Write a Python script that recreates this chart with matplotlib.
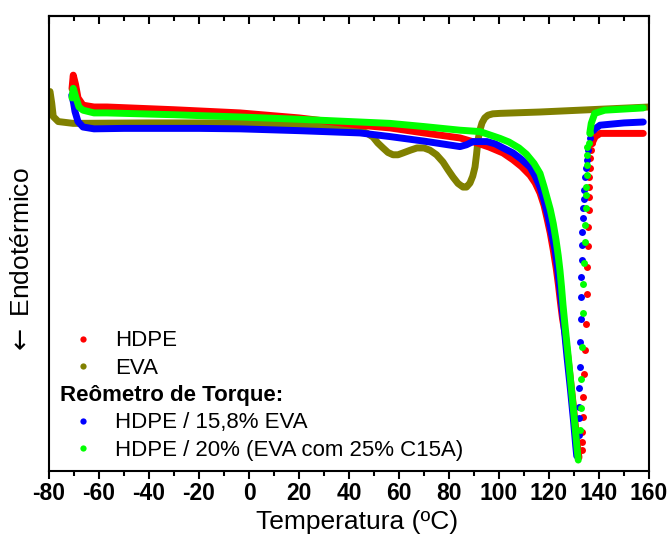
import matplotlib.pyplot as plt
from matplotlib.lines import Line2D
from matplotlib.ticker import MultipleLocator

plt.rcParams['font.family'] = ['Liberation Sans', 'DejaVu Sans']
plt.rcParams['axes.unicode_minus'] = False

# ---- data (heat flow in arbitrary units) ----
hdpe_T = [-70.8, -70.3, -69.4, -68.4, -66.4, -62.0, -56.8, -30.0, -3.6, 20.0, 44.4, 56.4,
          70.0, 84.4, 91.2, 96.0, 101.6, 105.6, 109.0, 112.4, 114.5, 116.4, 118.0, 119.1,
          120.5, 121.7, 122.9, 123.8, 124.6, 125.4, 126.5, 128.2, 129.6, 130.9, 131.7, 132.0]
hdpe_q = [84.0, 87.0, 85.0, 82.0, 80.4, 80.0, 80.0, 79.4, 78.7, 77.6, 76.0, 75.4,
          74.3, 73.2, 72.1, 71.2, 69.9, 68.4, 66.9, 65.0, 63.3, 61.1, 58.4, 55.8,
          52.3, 48.6, 44.5, 40.8, 37.0, 33.5, 30.0, 22.0, 15.0, 8.0, 4.0, 3.0]
hdpe_ret_T = [133.1, 133.1, 133.2, 133.5, 133.7, 134.1, 134.4, 134.7, 135.1, 135.3, 135.7,
              135.7, 135.9, 135.9, 136.0, 136.1, 136.3, 136.5, 136.8, 137.2]
hdpe_ret_q = [4.6, 6.4, 8.6, 11.9, 16.3, 21.3, 26.6, 32.3, 38.9, 44.8, 49.5,
              53.6, 57.4, 60.3, 62.5, 64.7, 66.5, 68.7, 70.5, 72.0]
hdpe_end_T = [137.2, 138.5, 140.5, 157.7]
hdpe_end_q = [72.0, 73.5, 74.2, 74.2]

eva_T = [-79.6, -78.9, -78.3, -76.3, -70.3, -40.0, -7.6, 32.4, 40.0, 44.4, 47.0, 49.6, 51.5,
         53.6, 55.6, 57.6, 59.6, 61.6, 64.5, 67.2, 70.0, 72.4, 75.0, 77.6, 79.6, 81.6, 83.6,
         85.6, 87.0, 88.4, 89.5, 90.4, 91.0, 91.6, 92.4, 93.2, 94.3, 95.6, 97.5, 100.4,
         116.4, 160.0]
eva_q = [83.4, 80.8, 77.9, 76.8, 76.4, 76.5, 76.5, 75.8, 75.4, 74.9, 74.3, 73.4, 72.1,
         71.0, 70.0, 69.5, 69.5, 69.9, 70.5, 71.0, 71.0, 70.5, 69.5, 67.9, 66.2, 64.6, 63.2,
         62.4, 62.4, 63.3, 64.8, 66.8, 69.5, 72.7, 75.0, 76.5, 77.6, 78.2, 78.5, 78.6,
         78.9, 80.0]

blend_T = [-70.9, -70.2, -69.6, -68.4, -66.4, -62.0, -50.0, -20.0, -3.6, 20.0, 44.4, 56.4,
           70.0, 84.4, 87.0, 89.6, 95.2, 98.5, 101.6, 105.6, 109.0, 112.4, 114.5, 116.4,
           118.0, 119.7, 121.0, 122.4, 123.5, 124.4, 125.2, 125.9, 127.2, 128.6, 129.9,
           130.7, 131.1]
blend_q = [82.6, 81.0, 79.0, 76.8, 75.6, 75.2, 75.3, 75.3, 75.2, 74.8, 74.3, 73.5,
           72.5, 71.3, 71.7, 72.4, 72.4, 71.9, 71.0, 69.9, 68.5, 66.8, 64.8, 62.4,
           59.5, 55.8, 52.3, 48.6, 44.3, 40.0, 36.0, 32.5, 25.1, 17.8, 10.5,
           5.5, 3.3]
blend_ret_T = [131.8, 132.1, 132.0, 132.1, 132.4, 132.4, 132.7, 132.9, 132.9, 133.0, 133.1,
               133.2, 133.7, 133.7, 134.0, 134.1, 134.4, 134.8, 135.1, 135.7, 136.4, 137.7]
blend_ret_q = [8.0, 11.6, 14.1, 18.2, 22.9, 28.4, 33.4, 38.2, 42.6, 46.4, 49.7,
               52.6, 55.6, 57.8, 59.8, 61.8, 64.6, 66.6, 68.4, 70.5, 73.2, 74.9]
blend_end_T = [137.7, 140.4, 150.0, 157.7]
blend_end_q = [74.9, 76.0, 76.5, 76.7]

nano_T = [-70.8, -70.3, -69.2, -68.0, -66.4, -62.0, -56.8, -30.0, -3.6, 20.0, 44.4, 56.4,
          70.0, 84.4, 92.4, 100.4, 104.0, 108.0, 111.0, 114.0, 116.4, 118.0, 119.1, 120.5,
          121.7, 122.8, 123.7, 124.4, 125.0, 125.6, 126.4, 127.7, 129.0, 130.3, 131.3, 131.7]
nano_q = [82.0, 84.1, 82.0, 80.0, 79.3, 78.7, 78.7, 78.3, 77.8, 77.3, 76.7, 76.4,
          75.7, 74.9, 74.6, 73.1, 72.3, 71.0, 69.6, 67.6, 65.4, 62.5, 60.3, 57.5,
          54.4, 50.8, 47.3, 44.0, 40.5, 36.5, 32.0, 25.1, 17.8, 10.5, 4.6, 2.4]
nano_ret_T = [132.4, 132.8, 132.8, 133.1, 133.5, 133.7, 134.0, 134.4, 134.4, 134.8, 134.8,
              134.8, 135.1, 135.1, 135.1, 135.1, 135.9, 136.3]
nano_ret_q = [9.0, 13.8, 20.2, 27.3, 34.7, 41.1, 45.7, 50.3, 54.1, 57.8, 60.7,
              62.5, 65.1, 67.3, 69.5, 71.3, 72.0, 74.2]
nano_end_T = [136.3, 136.9, 138.3, 142.3, 157.7]
nano_end_q = [74.2, 76.4, 78.6, 79.3, 79.8]

labels = ['HDPE', 'EVA', 'HDPE / 15,8% EVA', 'HDPE / 20% (EVA com 25% C15A)']
colors = ['#ff0000', '#808000', '#0000ff', '#00ff00']

# ---- plot ----
fig = plt.figure(figsize=(6.71, 5.40), dpi=100)
ax = fig.add_axes([49 / 671, 1 - 471 / 540, 600 / 671, 455 / 540])

lw, ms = 5, 5
kw = dict(lw=lw, solid_capstyle='round', solid_joinstyle='round')
ax.plot(eva_T, eva_q, color=colors[1], **kw)
ax.plot(hdpe_T, hdpe_q, color=colors[0], **kw)
ax.plot(hdpe_ret_T, hdpe_ret_q, 'o', ms=ms, mew=0, color=colors[0])
ax.plot(hdpe_end_T, hdpe_end_q, color=colors[0], **kw)
ax.plot(blend_T, blend_q, color=colors[2], **kw)
ax.plot(blend_ret_T, blend_ret_q, 'o', ms=ms, mew=0, color=colors[2])
ax.plot(blend_end_T, blend_end_q, color=colors[2], **kw)
ax.plot(nano_T, nano_q, color=colors[3], **kw)
ax.plot(nano_ret_T, nano_ret_q, 'o', ms=ms, mew=0, color=colors[3])
ax.plot(nano_end_T, nano_end_q, color=colors[3], **kw)

ax.set_xlim(-80, 160)
ax.set_ylim(0, 100)
ax.set_yticks([])
ax.xaxis.set_major_locator(MultipleLocator(20))
ax.xaxis.set_minor_locator(MultipleLocator(10))
ax.tick_params(axis='x', which='major', direction='out', length=6, width=1.5, pad=2,
               labelsize=16.5)
ax.tick_params(axis='x', which='minor', direction='out', length=3.5, width=1.5)
for t in ax.get_xticklabels():
    t.set_fontweight('bold')
for s in ax.spines.values():
    s.set_linewidth(1.5)

top = ax.secondary_xaxis('top')
top.xaxis.set_major_locator(MultipleLocator(20))
top.xaxis.set_minor_locator(MultipleLocator(10))
top.tick_params(which='major', direction='in', length=6, width=1.5, labeltop=False)
top.tick_params(which='minor', direction='in', length=3.5, width=1.5)
top.spines['top'].set_linewidth(1.5)

fig.text(357 / 671, 1 - 522 / 540, 'Temperatura (ºC)', fontsize=19, ha='center', va='center')
fig.text(22 / 671, 1 - 262 / 540, r'$\leftarrow$ Endotérmico', fontsize=19, rotation=90,
         ha='center', va='center')

# ---- legend ----
def dot(c):
    return Line2D([], [], ls='none', marker='o', ms=4.5, mew=0, color=c)

leg_kw = dict(frameon=False, fontsize=16, handlelength=2.07, handletextpad=0.4,
              labelspacing=0.29, borderpad=0, borderaxespad=0, loc='upper left')
leg1 = ax.legend([dot(colors[0]), dot(colors[1])], labels[:2],
                 bbox_to_anchor=(0.018, 0.309), **leg_kw)
ax.add_artist(leg1)
ax.legend([dot(colors[2]), dot(colors[3])], labels[2:], title='Reômetro de Torque:',
          title_fontproperties={'weight': 'bold', 'size': 16}, alignment='left',
          bbox_to_anchor=(0.018, 0.189), **leg_kw)

fig.savefig('out.png', dpi=100)
